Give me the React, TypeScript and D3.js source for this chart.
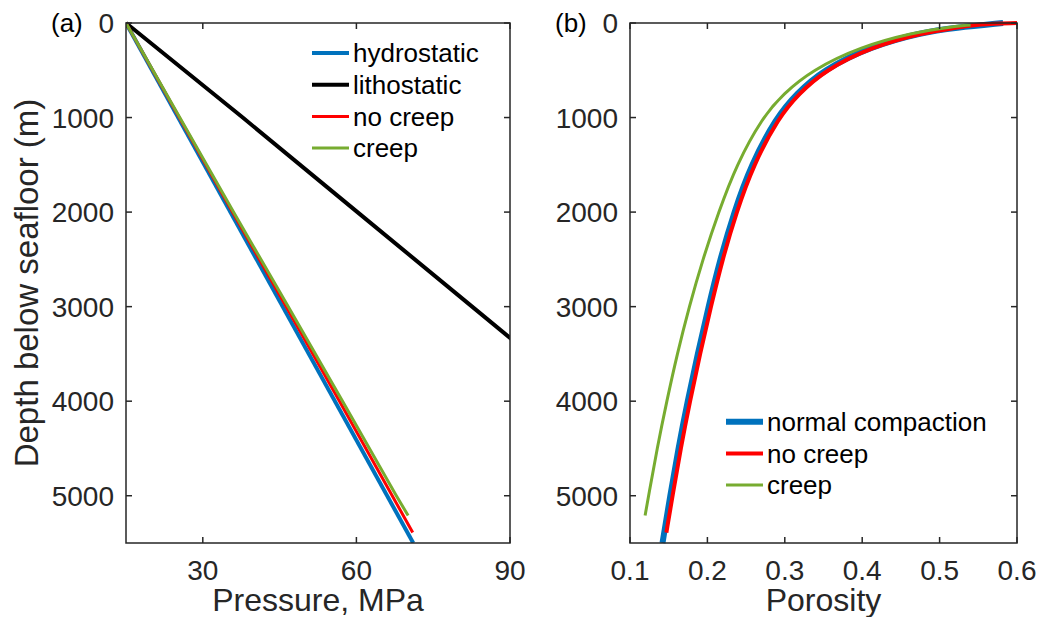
import React from 'react';
import * as d3 from 'd3';

// panel (a): pressure vs depth
const hydroDepth = [0, 5500];
const hydroP = [15, 71.1];
const lithoDepth = [0, 1000, 2000, 3000, 3500];
const lithoP = [15, 37.8, 60.2, 82.6, 93.8];
const noCreepDepth = [0, 1000, 2000, 3000, 4000, 5000, 5390];
const noCreepP = [15, 25.4, 35.8, 46.3, 56.7, 67.0, 71.0];
const creepDepth = [0, 1000, 2000, 3000, 4000, 5000, 5210];
const creepP = [15, 25.5, 36.0, 46.7, 57.3, 67.8, 70.1];

// panel (b): porosity vs depth
const normalDepth = [0, 50, 100, 250, 500, 750, 1000, 1500, 2000, 2500, 3000, 3500, 4000, 4500, 5000, 5500];
const normalPhi = [0.582, 0.52, 0.477, 0.41, 0.349, 0.315, 0.289, 0.2565, 0.2345, 0.2165, 0.2015, 0.1875, 0.1745, 0.1625, 0.152, 0.142];
const noCreepPorDepth = [0, 10, 50, 100, 250, 500, 750, 1000, 1500, 2000, 2500, 3000, 3500, 4000, 4500, 5000, 5390];
const noCreepPhi = [0.6, 0.55, 0.523, 0.48, 0.413, 0.352, 0.318, 0.292, 0.2595, 0.2375, 0.2195, 0.2045, 0.1905, 0.1775, 0.1655, 0.155, 0.147];
const creepPorDepth = [20, 50, 100, 250, 500, 750, 1000, 1500, 2000, 2500, 3000, 3500, 4000, 4500, 5000, 5210];
const creepPhi = [0.54, 0.508, 0.467, 0.398, 0.335, 0.298, 0.271, 0.2375, 0.2145, 0.194, 0.1765, 0.161, 0.1475, 0.135, 0.124, 0.1195];

const depthTicks = [0, 1000, 2000, 3000, 4000, 5000];
const pressureTicks = [30, 60, 90];
const porosityTicks = [0.1, 0.2, 0.3, 0.4, 0.5, 0.6];

const legendA = [
  { label: 'hydrostatic', color: '#0072BD', w: 4 },
  { label: 'lithostatic', color: '#000000', w: 4 },
  { label: 'no creep', color: '#FF0000', w: 3 },
  { label: 'creep', color: '#77AC30', w: 3 },
];
const legendB = [
  { label: 'normal compaction', color: '#0072BD', w: 6 },
  { label: 'no creep', color: '#FF0000', w: 4 },
  { label: 'creep', color: '#77AC30', w: 3 },
];

const FONT = '"Liberation Sans", Arial, Helvetica, sans-serif';
const AXC = '#262626';
const top = 23, bottom = 543;

const y = d3.scaleLinear().domain([0, 5500]).range([top, bottom]);

const zip = (a: number[], b: number[]) => a.map((d, i) => [b[i], d] as [number, number]);

function Frame({ x, ticks, fmt, label, tag }: any) {
  const [x0, x1] = x.range();
  return (
    <g>
      <rect x={x0} y={top} width={x1 - x0} height={bottom - top} fill="none" stroke={AXC} strokeWidth={1.5} />
      {depthTicks.map(t => (
        <g key={'y' + t}>
          <line x1={x0} x2={x0 + 6} y1={y(t)} y2={y(t)} stroke={AXC} strokeWidth={1.5} />
          <line x1={x1} x2={x1 - 6} y1={y(t)} y2={y(t)} stroke={AXC} strokeWidth={1.5} />
          <text x={x0 - 12} y={y(t)} dy="0.36em" textAnchor="end" fontSize={28} fill={AXC}>{t}</text>
        </g>
      ))}
      {ticks.map((t: number) => (
        <g key={'x' + t}>
          <line x1={x(t)} x2={x(t)} y1={bottom} y2={bottom - 6} stroke={AXC} strokeWidth={1.5} />
          <line x1={x(t)} x2={x(t)} y1={top} y2={top + 6} stroke={AXC} strokeWidth={1.5} />
          <text x={x(t)} y={580} textAnchor="middle" fontSize={28} fill={AXC}>{fmt(t)}</text>
        </g>
      ))}
      <text x={(x0 + x1) / 2} y={611} textAnchor="middle" fontSize={32} fill={AXC}>{label}</text>
      <text x={x0 - 75} y={32} textAnchor="start" fontSize={26} fill="#000">{tag}</text>
    </g>
  );
}

function Legend({ items, x, y0, dy }: any) {
  return (
    <g>
      {items.map((it: any, i: number) => (
        <g key={it.label}>
          <line x1={x} x2={x + 37} y1={y0 + i * dy} y2={y0 + i * dy} stroke={it.color} strokeWidth={it.w} />
          <text x={x + 41} y={y0 + i * dy} dy="0.35em" fontSize={26} fill="#000">{it.label}</text>
        </g>
      ))}
    </g>
  );
}

export default function App() {
  const xa = d3.scaleLinear().domain([15, 90]).range([126, 510]);
  const xb = d3.scaleLinear().domain([0.1, 0.6]).range([630, 1017]);

  const lineA = d3.line<[number, number]>().x(d => xa(d[0])).y(d => y(d[1]));
  const lineB = d3.line<[number, number]>().x(d => xb(d[0])).y(d => y(d[1])).curve(d3.curveBasis);

  return (
    <svg width={1041} height={617} style={{ position: 'absolute', left: 0, top: 0, background: '#fff' }} fontFamily={FONT}>
      <defs>
        <clipPath id="clipA">
          <rect x={126} y={top - 3} width={384} height={bottom - top + 3} />
        </clipPath>
      </defs>
      <rect width={1041} height={617} fill="#fff" />

      <g clipPath="url(#clipA)" fill="none" strokeLinejoin="round">
        <path d={lineA(zip(hydroDepth, hydroP))!} stroke="#0072BD" strokeWidth={4} />
        <path d={lineA(zip(lithoDepth, lithoP))!} stroke="#000" strokeWidth={4} />
        <path d={lineA(zip(noCreepDepth, noCreepP))!} stroke="#FF0000" strokeWidth={3} />
        <path d={lineA(zip(creepDepth, creepP))!} stroke="#77AC30" strokeWidth={3} />
      </g>
      <Frame x={xa} ticks={pressureTicks} fmt={(t: number) => String(t)} label="Pressure, MPa" tag="(a)" />
      <Legend items={legendA} x={312} y0={53} dy={31.7} />

      <g fill="none" strokeLinejoin="round">
        <path d={lineB(zip(normalDepth, normalPhi))!} stroke="#0072BD" strokeWidth={6} />
        <path d={lineB(zip(noCreepPorDepth, noCreepPhi))!} stroke="#FF0000" strokeWidth={4} />
        <path d={lineB(zip(creepPorDepth, creepPhi))!} stroke="#77AC30" strokeWidth={3} />
      </g>
      <Frame x={xb} ticks={porosityTicks} fmt={d3.format('.1f')} label="Porosity" tag="(b)" />
      <Legend items={legendB} x={726} y0={421.7} dy={31.7} />

      <text transform="translate(38,283) rotate(-90)" textAnchor="middle" fontSize={33} fill={AXC}>Depth below seafloor (m)</text>
    </svg>
  );
}
